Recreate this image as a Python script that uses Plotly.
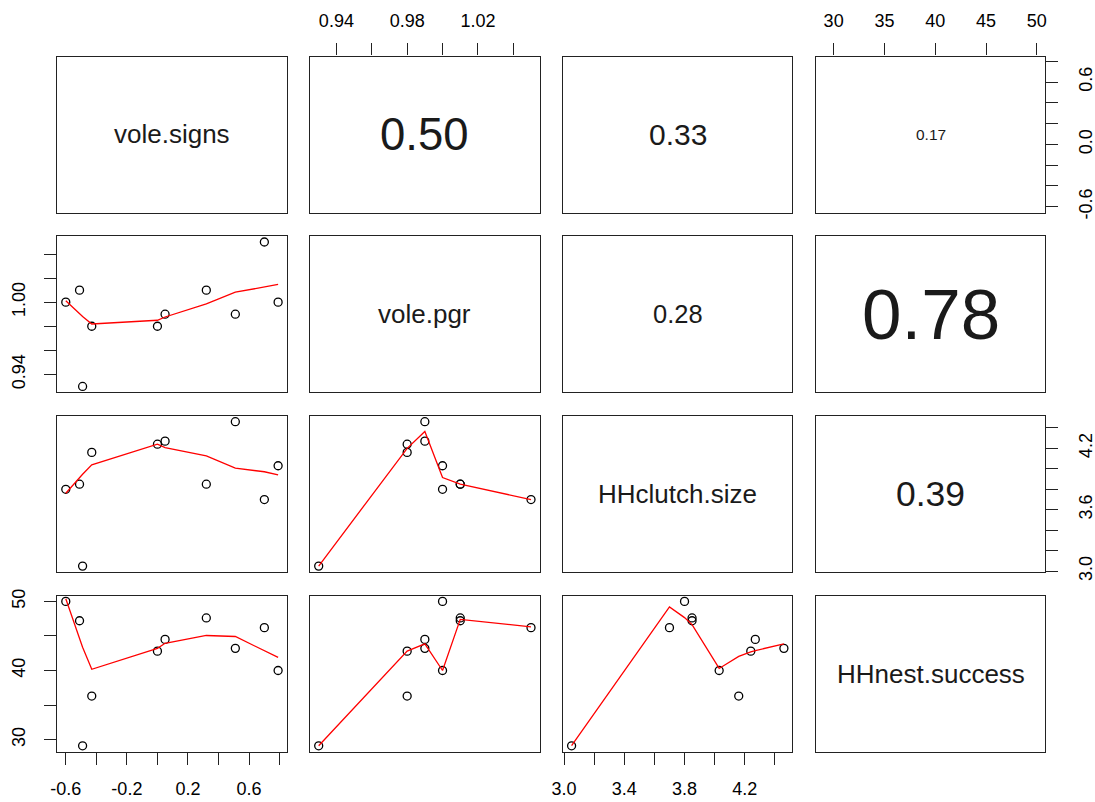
import numpy as np
import plotly.graph_objects as go

# ---- data -------------------------------------------------------------
var_names = ["vole.signs", "vole.pgr", "HHclutch.size", "HHnest.success"]
vole_signs = [0.79, 0.70, 0.51, 0.32, 0.05, 0.00, -0.43, -0.49, -0.51, -0.60]
vole_pgr = [1.00, 1.05, 0.99, 1.01, 0.99, 0.98, 0.98, 0.93, 1.01, 1.00]
hh_clutch_size = [4.03, 3.70, 4.46, 3.85, 4.27, 4.24, 4.16, 3.05, 3.85, 3.80]
hh_nest_success = [40.0, 46.2, 43.2, 47.6, 44.5, 42.8, 36.3, 29.1, 47.2, 50.0]

# correlation coefficients shown in the upper panels: (row, col) -> r
cor_pairs = [(0, 1), (0, 2), (0, 3), (1, 2), (1, 3), (2, 3)]
cor_values = [0.50, 0.33, 0.17, 0.28, 0.78, 0.39]

# axis ticks and their labels
signs_ticks = [-0.6, -0.4, -0.2, 0.0, 0.2, 0.4, 0.6, 0.8]
signs_bottom_labels = ["-0.6", "", "-0.2", "", "0.2", "", "0.6", ""]
signs_right_labels = ["-0.6", "", "", "0.0", "", "", "0.6", ""]
pgr_ticks = [0.94, 0.96, 0.98, 1.00, 1.02, 1.04]
pgr_top_labels = ["0.94", "", "0.98", "", "1.02", ""]
pgr_left_labels = ["0.94", "", "", "1.00", "", ""]
clutch_ticks = [3.0, 3.2, 3.4, 3.6, 3.8, 4.0, 4.2, 4.4]
clutch_bottom_labels = ["3.0", "", "3.4", "", "3.8", "", "4.2", ""]
clutch_right_labels = ["3.0", "", "", "3.6", "", "", "4.2", ""]
nest_ticks = [30, 35, 40, 45, 50]
nest_top_labels = ["30", "35", "40", "45", "50"]
nest_left_labels = ["30", "", "40", "", "50"]

data = [vole_signs, vole_pgr, hh_clutch_size, hh_nest_success]


# ---- R-style lowess smoother (f = 2/3, 3 robustness iterations) ----------
def lowess(xv, yv, f=2.0 / 3.0, nsteps=3):
    order = np.argsort(np.asarray(xv, float), kind="stable")
    x = np.asarray(xv, float)[order]
    y = np.asarray(yv, float)[order]
    n = len(x)
    delta = 0.01 * (x[-1] - x[0])
    ns = max(2, min(n, int(f * n + 1e-7)))
    ys = np.zeros(n)
    rw = np.ones(n)
    rng = x[-1] - x[0]

    def lowest(xs, nleft, nright, userw):
        h = max(xs - x[nleft], x[nright] - xs)
        h9, h1 = 0.999 * h, 0.001 * h
        w = np.zeros(n)
        a = 0.0
        j = nleft
        while j < n:
            r = abs(x[j] - xs)
            if r <= h9:
                w[j] = 1.0 if r <= h1 else (1.0 - (r / h) ** 3) ** 3
                if userw:
                    w[j] *= rw[j]
                a += w[j]
            elif x[j] > xs:
                break
            j += 1
        nrt = j - 1
        if a <= 0:
            return None
        sl = slice(nleft, nrt + 1)
        w[sl] /= a
        if h > 0:
            a = np.sum(w[sl] * x[sl])
            b = xs - a
            c = np.sum(w[sl] * (x[sl] - a) ** 2)
            if np.sqrt(c) > 0.001 * rng:
                b /= c
                w[sl] *= b * (x[sl] - a) + 1.0
        return float(np.sum(w[sl] * y[sl]))

    it = 1
    while it <= nsteps + 1:
        nleft, nright, last, i = 0, ns - 1, -1, 0
        while True:
            if nright < n - 1:
                d1 = x[i] - x[nleft]
                d2 = x[nright + 1] - x[i]
                if d1 > d2:
                    nleft += 1
                    nright += 1
                    continue
            v = lowest(x[i], nleft, nright, it > 1)
            ys[i] = y[i] if v is None else v
            if last < i - 1:
                denom = x[i] - x[last]
                for j in range(last + 1, i):
                    alpha = (x[j] - x[last]) / denom
                    ys[j] = alpha * ys[i] + (1 - alpha) * ys[last]
            last = i
            cut = x[last] + delta
            i = last + 1
            while i < n:
                if x[i] > cut:
                    break
                if x[i] == x[last]:
                    ys[i] = ys[last]
                    last = i
                i += 1
            i = max(last + 1, i - 1)
            if last >= n - 1:
                break
        res = y - ys
        sc = np.mean(np.abs(res))
        if it > nsteps:
            break
        ar = np.abs(res)
        s = np.sort(ar)
        m1 = n // 2
        if n % 2 == 0:
            cmad = 3.0 * (s[m1] + s[n - m1 - 1])
        else:
            cmad = 6.0 * s[m1]
        if cmad < 1e-7 * sc:
            break
        c9, c1 = 0.999 * cmad, 0.001 * cmad
        rw = np.where(ar <= c1, 1.0,
                      np.where(ar <= c9, (1 - (ar / cmad) ** 2) ** 2, 0.0))
        it += 1
    return x, ys


def padded_range(v):
    lo, hi = min(v), max(v)
    d = hi - lo
    return [lo - 0.04 * d, hi + 0.04 * d]


# ---- layout geometry (pixels) ------------------------------------------
W, H = 1095, 802
col_left0, col_step, panel_w = 57.3, 252.9, 229.3
row_top0, row_step, panel_h = 56.5, 179.7, 156.0

FONT = "Liberation Sans, Arial, sans-serif"
TICK_FONT = dict(family=FONT, size=18, color="black")
FRAME = "#222222"

fig = go.Figure()
layout = dict(
    width=W, height=H,
    margin=dict(l=0, r=0, t=0, b=0, autoexpand=False),
    paper_bgcolor="white", plot_bgcolor="white",
    showlegend=False,
    annotations=[],
)

# axes that carry ticks: (row, col, which) -> (tickvals, ticktext, side)
tick_axes = {
    (3, 0, "x"): (signs_ticks, signs_bottom_labels, "bottom"),
    (3, 2, "x"): (clutch_ticks, clutch_bottom_labels, "bottom"),
    (0, 1, "x"): (pgr_ticks, pgr_top_labels, "top"),
    (0, 3, "x"): (nest_ticks, nest_top_labels, "top"),
    (1, 0, "y"): (pgr_ticks, pgr_left_labels, "left"),
    (3, 0, "y"): (nest_ticks, nest_left_labels, "left"),
    (0, 3, "y"): (signs_ticks, signs_right_labels, "right"),
    (2, 3, "y"): (clutch_ticks, clutch_right_labels, "right"),
}

cor_lookup = dict(zip(cor_pairs, cor_values))

for r in range(4):
    for c in range(4):
        k = r * 4 + c + 1
        sfx = "" if k == 1 else str(k)
        left = col_left0 + c * col_step
        top = row_top0 + r * row_step
        xdom = [left / W, (left + panel_w) / W]
        ydom = [1 - (top + panel_h) / H, 1 - top / H]

        base = dict(showline=True, mirror=True, linecolor=FRAME, linewidth=1.3,
                    showgrid=False, zeroline=False, ticks="",
                    showticklabels=False, fixedrange=True, automargin=False)
        xa = dict(base, domain=xdom, range=padded_range(data[c]),
                  anchor="y" + sfx)
        ya = dict(base, domain=ydom, range=padded_range(data[r]),
                  anchor="x" + sfx)

        if (r, c, "x") in tick_axes:
            tv, tt, side = tick_axes[(r, c, "x")]
            xa.update(tickmode="array", tickvals=tv, ticktext=tt, side=side,
                      ticks="outside", ticklen=12, tickwidth=1.3,
                      tickcolor=FRAME, showticklabels=True,
                      tickfont=TICK_FONT, ticklabelstandoff=9)
        if (r, c, "y") in tick_axes:
            tv, tt, side = tick_axes[(r, c, "y")]
            ya.update(tickmode="array", tickvals=tv, ticktext=tt, side=side,
                      ticks="outside", ticklen=12, tickwidth=1.3,
                      tickcolor=FRAME, showticklabels=True,
                      tickfont=TICK_FONT, tickangle=-90, ticklabelstandoff=12)

        layout["xaxis" + sfx] = xa
        layout["yaxis" + sfx] = ya

        if r <= c:
            # an invisible trace so that the panel frame and axes get drawn
            fig.add_trace(go.Scatter(
                x=[sum(padded_range(data[c])) / 2],
                y=[sum(padded_range(data[r])) / 2],
                mode="markers", marker=dict(opacity=0),
                xaxis="x" + sfx, yaxis="y" + sfx, hoverinfo="skip"))

        if r == c:
            layout["annotations"].append(dict(
                text=var_names[r], x=0.5, y=0.5,
                xref="x" + sfx + " domain", yref="y" + sfx + " domain",
                showarrow=False, font=dict(family=FONT, size=26, color="#1a1a1a"),
                xanchor="center", yanchor="middle"))
        elif r < c:
            val = cor_lookup[(r, c)]
            layout["annotations"].append(dict(
                text=f"{val:.2f}", x=0.5, y=0.5,
                xref="x" + sfx + " domain", yref="y" + sfx + " domain",
                showarrow=False,
                font=dict(family=FONT, size=91 * val, color="#1a1a1a"),
                xanchor="center", yanchor="middle"))
        else:
            xs, ys = data[c], data[r]
            fig.add_trace(go.Scatter(
                x=xs, y=ys, mode="markers",
                xaxis="x" + sfx, yaxis="y" + sfx,
                marker=dict(symbol="circle-open", size=8, color="black",
                            line=dict(width=1.3, color="black")),
                hoverinfo="skip"))
            lx, ly = lowess(xs, ys)
            fig.add_trace(go.Scatter(
                x=lx, y=ly, mode="lines",
                xaxis="x" + sfx, yaxis="y" + sfx,
                line=dict(color="#ff0000", width=1.3),
                hoverinfo="skip"))

fig.update_layout(**layout)
fig.write_html("out.html")
